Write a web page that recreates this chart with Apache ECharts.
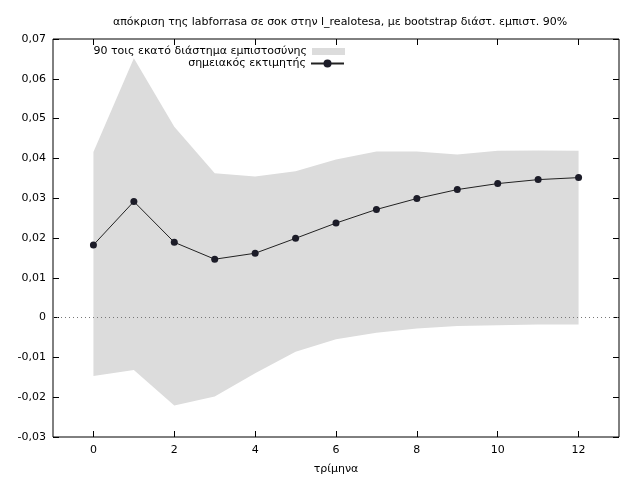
<!DOCTYPE html>
<html>
<head>
<meta charset="utf-8">
<script src="https://cdn.jsdelivr.net/npm/echarts@6/dist/echarts.min.js"></script>
<style>html,body{margin:0;padding:0;background:#fff;}#c{width:640px;height:480px;}</style>
</head>
<body>
<div id="c"></div>
<script>
var titleText = 'απόκριση της labforrasa σε σοκ στην l_realotesa, με bootstrap διάστ. εμπιστ. 90%';
var xLabel = 'τρίμηνα';
var bandName = '90 τοις εκατό διάστημα εμπιστοσύνης';
var pointName = 'σημειακός εκτιμητής';
var periods = [0, 1, 2, 3, 4, 5, 6, 7, 8, 9, 10, 11, 12];
var pointEst = [0.01825, 0.02917, 0.01892, 0.01467, 0.01617, 0.01992, 0.02375, 0.02717, 0.02992, 0.03217, 0.03367, 0.03467, 0.03517];
var upper = [0.04158, 0.06518, 0.04793, 0.03625, 0.03543, 0.03675, 0.03975, 0.04175, 0.04175, 0.04100, 0.04190, 0.04200, 0.04190];
var lower = [-0.01468, -0.01318, -0.02208, -0.01983, -0.01400, -0.00858, -0.00543, -0.00383, -0.00275, -0.00210, -0.00190, -0.00175, -0.00175];
var xTicks = [0, 2, 4, 6, 8, 10, 12];

var font = 'DejaVu Sans';
var bandColor = '#dcdcdc';

var bandData = periods.map(function (p, i) { return [p, lower[i], upper[i]]; });
var pointData = periods.map(function (p, i) { return [p, pointEst[i]]; });

function fmtY(v) {
  if (Math.abs(v) < 1e-9) return '0';
  return v.toFixed(2).replace('.', ',');
}

function renderBand(params, api) {
  if (params.dataIndex !== 0) return null;
  var top = [], bottom = [];
  for (var i = 0; i < periods.length; i++) {
    top.push(api.coord([periods[i], upper[i]]));
    bottom.push(api.coord([periods[i], lower[i]]));
  }
  var pts = top.concat(bottom.reverse());
  return {
    type: 'polygon',
    shape: { points: pts },
    style: { fill: bandColor, stroke: null }
  };
}

var chart = echarts.init(document.getElementById('c'), null, { renderer: 'canvas' });
chart.setOption({
  animation: false,
  backgroundColor: '#fff',
  textStyle: { fontFamily: font },
  title: {
    text: titleText, left: 108, top: 12,
    textStyle: { fontFamily: font, fontSize: 11, fontWeight: 'normal', color: '#000' }
  },
  legend: [
    {
      data: [{ name: bandName, icon: 'rect' }],
      right: 295, top: 46, padding: 0, align: 'right',
      itemWidth: 33, itemHeight: 7,
      textStyle: { fontFamily: font, fontSize: 11, color: '#000' },
      selectedMode: false
    },
    {
      data: [pointName],
      right: 295, top: 58, padding: 0, align: 'right',
      itemWidth: 33, itemHeight: 10,
      textStyle: { fontFamily: font, fontSize: 11, color: '#000' },
      selectedMode: false
    }
  ],
  grid: { left: 53, right: 21, top: 39, bottom: 41, show: true, borderColor: '#000', borderWidth: 1, containLabel: false },
  xAxis: [
    {
      type: 'value', min: -1, max: 13, position: 'bottom',
      name: xLabel, nameLocation: 'middle', nameGap: 27,
      nameTextStyle: { fontFamily: font, fontSize: 11, color: '#000' },
      axisLine: { show: false, onZero: false },
      axisTick: { show: true, inside: true, length: 6, customValues: xTicks, lineStyle: { color: '#000' } },
      axisLabel: { show: true, customValues: xTicks, margin: 8, fontFamily: font, fontSize: 11, color: '#000' },
      splitLine: { show: false }
    },
    {
      type: 'value', min: -1, max: 13, position: 'top',
      axisLine: { show: false, onZero: false },
      axisTick: { show: true, inside: true, length: 6, customValues: xTicks, lineStyle: { color: '#000' } },
      axisLabel: { show: false },
      splitLine: { show: false }
    }
  ],
  yAxis: [
    {
      type: 'value', min: -0.03, max: 0.07, interval: 0.01, position: 'left',
      axisLine: { show: false, onZero: false },
      axisTick: { show: true, inside: true, length: 6, lineStyle: { color: '#000' } },
      axisLabel: { show: true, margin: 7, fontFamily: font, fontSize: 11, color: '#000', formatter: fmtY },
      splitLine: { show: false }
    },
    {
      type: 'value', min: -0.03, max: 0.07, interval: 0.01, position: 'right',
      axisLine: { show: false, onZero: false },
      axisTick: { show: true, inside: true, length: 6, lineStyle: { color: '#000' } },
      axisLabel: { show: false },
      splitLine: { show: false }
    }
  ],
  series: [
    {
      name: bandName, type: 'custom', data: bandData, renderItem: renderBand,
      encode: { x: 0, y: [1, 2] },
      itemStyle: { color: bandColor }, silent: true, z: 1
    },
    {
      name: pointName, type: 'line', data: pointData, z: 3,
      symbol: 'circle', symbolSize: 7,
      lineStyle: { color: '#222', width: 1 },
      itemStyle: { color: '#1c1c28' },
      markLine: {
        silent: true, symbol: 'none', label: { show: false },
        lineStyle: { color: '#777', type: [1, 3], width: 1 },
        data: [{ yAxis: 0 }]
      }
    }
  ]
});
</script>
</body>
</html>
